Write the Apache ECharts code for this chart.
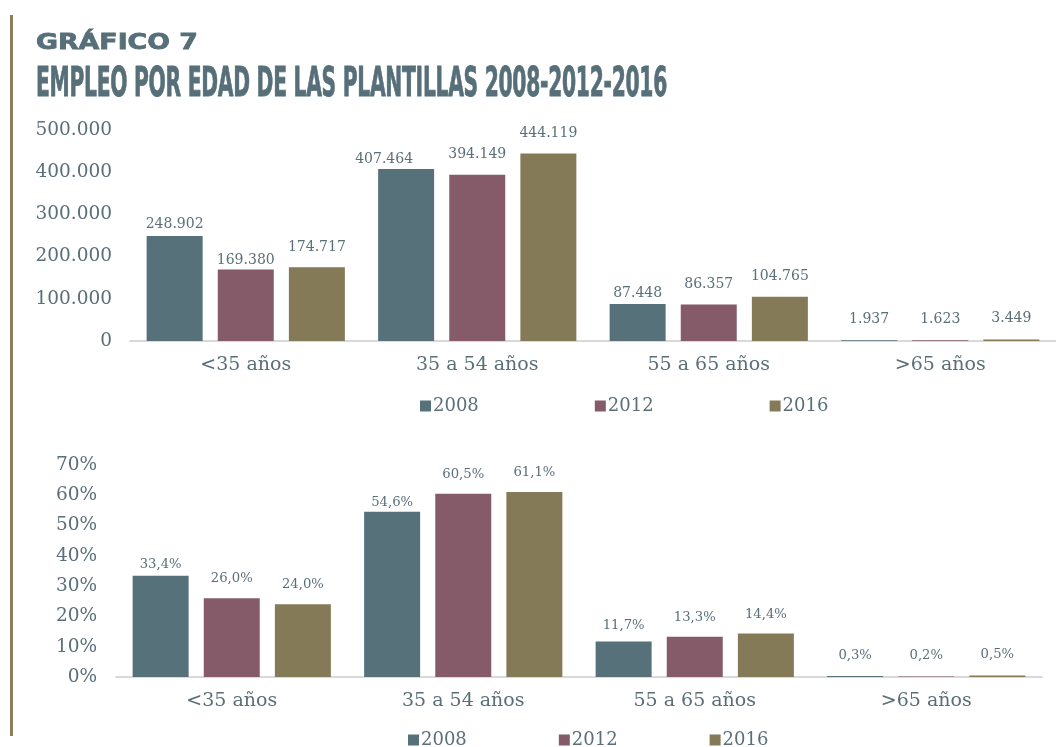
<!DOCTYPE html>
<html>
<head>
<meta charset="utf-8">
<script src="https://cdn.jsdelivr.net/npm/echarts@6/dist/echarts.min.js"></script>
<style>
  html, body { margin: 0; padding: 0; background: #fff; }
  .wrap { position: relative; width: 1056px; height: 747px; overflow: hidden; }
  .bar-left { position: absolute; left: 10px; top: 15px; width: 3px; height: 721px; background: #8a7f5a; }
  .t1, .t2 { position: absolute; left: 36px; color: #566f78; white-space: nowrap; transform-origin: 0 0; }
  .t1 { top: 31px; font: bold 22px/22px "DejaVu Sans", sans-serif; -webkit-text-stroke: 0.8px #566f78; }
  .t2 { top: 58px; font: bold 41px "Liberation Sans Narrow", "DejaVu Sans Condensed", sans-serif; letter-spacing: -0.5px; -webkit-text-stroke: 0.8px #566f78; }
  #chart { position: absolute; left: 0; top: 0; width: 1056px; height: 747px; }
</style>
</head>
<body>
<div class="wrap">
  <div id="chart"></div>
  <div class="bar-left"></div>
  <div class="t1" id="t1">GRÁFICO 7</div>
  <div class="t2" id="t2">EMPLEO POR EDAD DE LAS PLANTILLAS 2008-2012-2016</div>
</div>
<script>
// datos
const categorias = ['<35 años', '35 a 54 años', '55 a 65 años', '>65 años'];
const anios = ['2008', '2012', '2016'];
const empleo2008 = [248902, 407464, 87448, 1937];
const empleo2012 = [169380, 394149, 86357, 1623];
const empleo2016 = [174717, 444119, 104765, 3449];
const pct2008 = [33.4, 54.6, 11.7, 0.3];
const pct2012 = [26.0, 60.5, 13.3, 0.2];
const pct2016 = [24.0, 61.1, 14.4, 0.5];
const colores = ['#56717a', '#855a69', '#857a57'];

// separación extra de las etiquetas (como en el original)
const liftTop = [[0, -2, -1, 9], [-3, 8, 8, 9], [8, 8, 8, 9]];
const shiftTop = [[0, -22, 0, 0], [0, 0, 0, 0], [0, 0, 0, 0]];
const liftBot = [[0, -2, 4, 9], [8, 8, 8, 9], [8, 8, 7, 9]];

// ajustar ancho de los títulos
function fitWidth(id, target) {
  const el = document.getElementById(id);
  const w = el.getBoundingClientRect().width;
  el.style.transform = 'scaleX(' + (target / w) + ')';
}
fitWidth('t1', 162);
fitWidth('t2', 631);

const textColor = '#5a6f78';
const serif = '"DejaVu Serif", serif';

function miles(v) {
  return String(v).replace(/\B(?=(\d{3})+(?!\d))/g, '.');
}
function pct(v) {
  return v.toFixed(1).replace('.', ',') + '%';
}

function barSeries(name, data, idx, color, fmt, lift, shift, fontSize) {
  return {
    name: name,
    type: 'bar',
    xAxisIndex: idx,
    yAxisIndex: idx,
    data: data.map((v, i) => ({
      value: v,
      label: { distance: 5 + lift[i], offset: [shift ? shift[i] : 0, 0] }
    })),
    barWidth: 56,
    barGap: '27%',
    itemStyle: { color: color },
    label: {
      show: true,
      position: 'top',
      color: textColor,
      fontFamily: serif,
      fontSize: fontSize,
      formatter: p => fmt(p.value)
    }
  };
}

const chart = echarts.init(document.getElementById('chart'));

const legendBase = {
  data: anios,
  padding: 0,
  itemWidth: 11,
  itemHeight: 11,
  icon: 'rect',
  textStyle: { color: textColor, fontFamily: serif, fontSize: 18, padding: [0, 0, 0, -3] }
};

const option = {
  animation: false,
  color: colores,
  grid: [
    { left: 130, top: 130, width: 936, height: 211 },
    { left: 116, top: 465, width: 926, height: 212 }
  ],
  legend: [
    Object.assign({}, legendBase, { left: 420, top: 397, itemGap: 116 }),
    Object.assign({}, legendBase, { left: 408, top: 731, itemGap: 92 })
  ],
  xAxis: [0, 1].map(i => ({
    type: 'category',
    gridIndex: i,
    data: categorias,
    axisTick: { show: false },
    axisLine: { lineStyle: { color: '#d9d9d9', width: 2 } },
    axisLabel: { color: textColor, fontFamily: serif, fontSize: 19, margin: 15 }
  })),
  yAxis: [
    {
      type: 'value',
      gridIndex: 0,
      min: 0,
      max: 500000,
      interval: 100000,
      splitLine: { show: false },
      axisLabel: { color: textColor, fontFamily: serif, fontSize: 18.5, margin: 18, formatter: v => miles(v) }
    },
    {
      type: 'value',
      gridIndex: 1,
      min: 0,
      max: 70,
      interval: 10,
      splitLine: { show: false },
      axisLabel: { color: textColor, fontFamily: serif, fontSize: 18.5, margin: 19, formatter: '{value}%' }
    }
  ],
  series: [
    barSeries('2008', empleo2008, 0, colores[0], miles, liftTop[0], shiftTop[0], 14),
    barSeries('2012', empleo2012, 0, colores[1], miles, liftTop[1], shiftTop[1], 14),
    barSeries('2016', empleo2016, 0, colores[2], miles, liftTop[2], shiftTop[2], 14),
    barSeries('2008', pct2008, 1, colores[0], pct, liftBot[0], null, 13.2),
    barSeries('2012', pct2012, 1, colores[1], pct, liftBot[1], null, 13.2),
    barSeries('2016', pct2016, 1, colores[2], pct, liftBot[2], null, 13.2)
  ]
};

chart.setOption(option);
window.addEventListener('resize', chart.resize);
</script>
</body>
</html>
